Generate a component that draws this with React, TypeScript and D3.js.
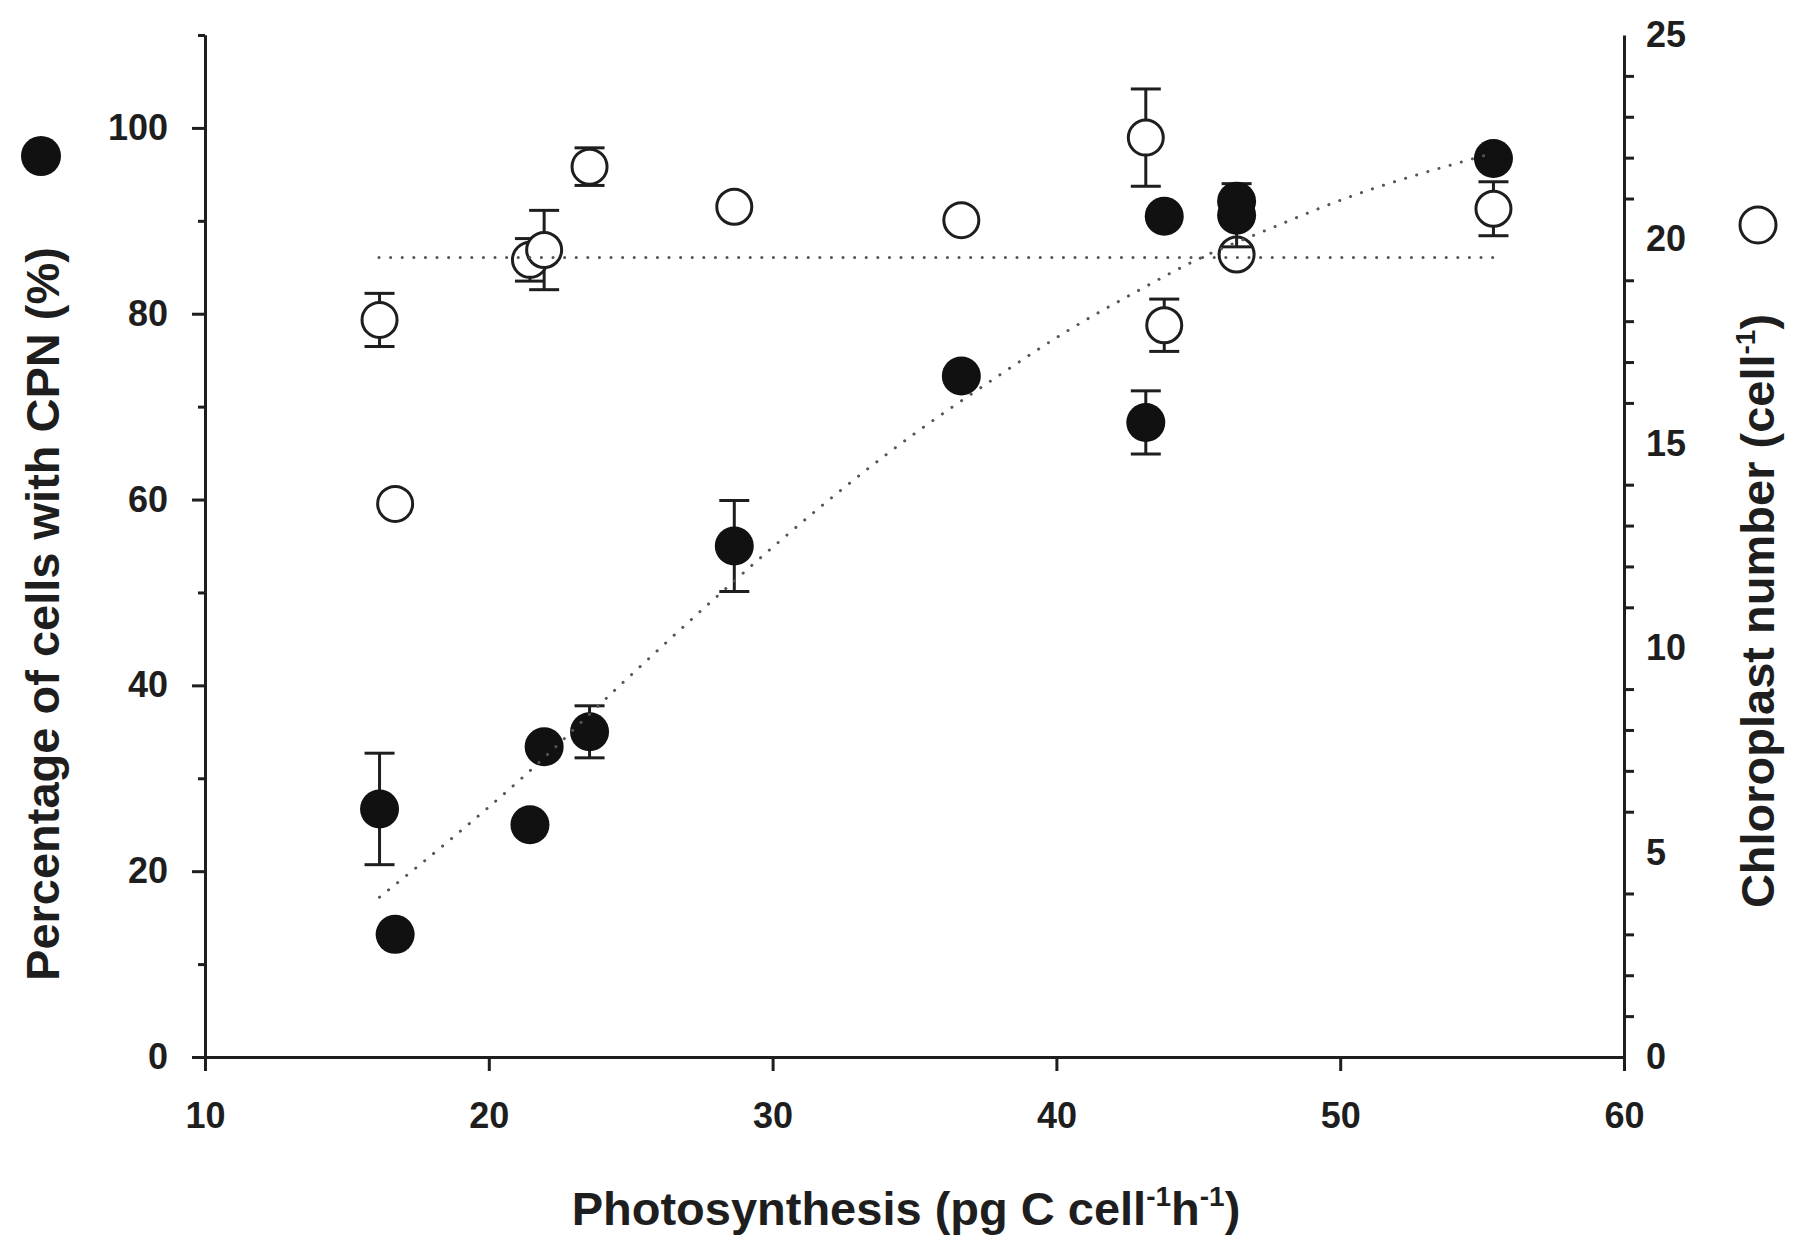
import { useEffect, useRef } from 'react';
import * as d3 from 'd3';

const WIDTH = 1800;
const HEIGHT = 1244;
const PLOT = { left: 205, right: 1624, top: 35, bottom: 1057 };

// filled circles: percentage of cells with CPN (left axis)
const cpnPhoto = [16.15, 16.7, 21.45, 21.95, 23.55, 28.65, 36.65, 43.15, 43.8, 46.35, 46.35, 55.4];
const cpnPct = [26.7, 13.2, 25.0, 33.4, 35.0, 55.0, 73.3, 68.3, 90.5, 92.1, 90.6, 96.7];
const cpnErr = [6.0, 0, 0, 0, 2.8, 4.9, 0, 3.4, 0, 0, 3.4, 0];

// open circles: chloroplast number (right axis)
const chlPhoto = [16.15, 16.7, 21.45, 21.95, 23.55, 28.65, 36.65, 43.15, 43.8, 46.35, 55.4];
const chlNum = [18.03, 13.53, 19.5, 19.74, 21.78, 20.8, 20.47, 22.49, 17.9, 19.63, 20.75];
const chlErr = [0.65, 0, 0.52, 0.97, 0.46, 0, 0, 1.19, 0.64, 0, 0.66];

// dotted fitted curve through the filled circles
const fitPhoto = [16.15, 18.63, 21.22, 24.51, 27.9, 30.37, 34.14, 37.9, 40.36, 42.83, 44.94, 47.4, 50.35, 54.7, 55.4];
const fitPct = [17.2, 23.36, 30.17, 39.68, 49.19, 55.83, 65.15, 73.2, 78.1, 82.4, 85.8, 89.0, 92.6, 96.7, 97.3];

// dotted mean line for chloroplast number
const meanPhoto = [16.13, 55.48];
const meanChl = [19.56, 19.56];

const xTicks = [10, 20, 30, 40, 50, 60];
const yLeftMajor = [0, 20, 40, 60, 80, 100];
const yLeftMinor = [10, 30, 50, 70, 90, 110];
const yRightLabels = [0, 5, 10, 15, 20, 25];

const FONT = '"Liberation Sans", Arial, Helvetica, sans-serif';
const INK = '#1e1e1e';
const R = 19;
const CAP = 15;

type Pt = { x: number; y: number };

const App = () => {
  const axesRef = useRef<SVGGElement>(null);

  const xScale = d3.scaleLinear().domain([10, 60]).range([PLOT.left, PLOT.right]);
  const yLeft = d3.scaleLinear().domain([0, 110]).range([PLOT.bottom, PLOT.top]);
  const yRight = d3.scaleLinear().domain([0, 25]).range([PLOT.bottom, PLOT.top]);

  useEffect(() => {
    const g = d3.select(axesRef.current);
    g.selectAll('*').remove();

    const style = (sel: d3.Selection<SVGGElement, unknown, null, undefined>) => {
      sel.selectAll('path, line').attr('stroke', INK).attr('stroke-width', 3);
      sel
        .selectAll('text')
        .attr('fill', INK)
        .style('font-family', FONT)
        .style('font-weight', 'bold')
        .style('font-size', '36px');
    };

    // X axis
    g.append('g')
      .attr('transform', `translate(0,${PLOT.bottom})`)
      .call(
        d3.axisBottom(xScale).tickValues(xTicks).tickSize(14).tickSizeOuter(0).tickPadding(31).tickFormat(d3.format('d'))
      )
      .call(style);

    // left axis, major + minor ticks
    g.append('g')
      .attr('transform', `translate(${PLOT.left},0)`)
      .call(
        d3.axisLeft(yLeft).tickValues(yLeftMajor).tickSize(13).tickSizeOuter(0).tickPadding(24).tickFormat(d3.format('d'))
      )
      .call(style);
    g.append('g')
      .attr('transform', `translate(${PLOT.left},0)`)
      .call(d3.axisLeft(yLeft).tickValues(yLeftMinor).tickSize(7).tickSizeOuter(0).tickFormat(() => ''))
      .call(style);

    // right axis, ticks every unit except labelled ones
    const rightMinor = d3.range(1, 25).filter((v) => v % 5 !== 0);
    g.append('g')
      .attr('transform', `translate(${PLOT.right},0)`)
      .call(d3.axisRight(yRight).tickValues(rightMinor).tickSize(10).tickSizeOuter(0).tickFormat(() => ''))
      .call(style);
    g.append('g')
      .attr('transform', `translate(${PLOT.right},0)`)
      .call(d3.axisRight(yRight).tickValues(yRightLabels).tickSize(0).tickSizeOuter(0).tickPadding(22).tickFormat(d3.format('d')))
      .call(style)
      .call((s) => s.select('.domain').remove());
  }, []);

  const fitLine = d3
    .line<Pt>()
    .x((d) => xScale(d.x))
    .y((d) => yLeft(d.y))
    .curve(d3.curveMonotoneX);
  const fitPath = fitLine(fitPhoto.map((x, i) => ({ x, y: fitPct[i] })));

  const meanLine = d3
    .line<Pt>()
    .x((d) => xScale(d.x))
    .y((d) => yRight(d.y));
  const meanPath = meanLine(meanPhoto.map((x, i) => ({ x, y: meanChl[i] })));

  const errorBar = (cx: number, lo: number, hi: number, key: string) => (
    <g key={key} stroke={INK} strokeWidth={3}>
      <line x1={cx} x2={cx} y1={lo} y2={hi} />
      <line x1={cx - CAP} x2={cx + CAP} y1={lo} y2={lo} />
      <line x1={cx - CAP} x2={cx + CAP} y1={hi} y2={hi} />
    </g>
  );

  const chlBars = chlPhoto.map((x, i) =>
    chlErr[i] > 0 ? errorBar(xScale(x), yRight(chlNum[i] - chlErr[i]), yRight(chlNum[i] + chlErr[i]), 'ce' + i) : null
  );
  const cpnBars = cpnPhoto.map((x, i) =>
    cpnErr[i] > 0 ? errorBar(xScale(x), yLeft(cpnPct[i] - cpnErr[i]), yLeft(cpnPct[i] + cpnErr[i]), 'pe' + i) : null
  );

  const openCircles = chlPhoto.map((x, i) => (
    <circle key={'o' + i} cx={xScale(x)} cy={yRight(chlNum[i])} r={R - 1.5} fill="#fff" stroke={INK} strokeWidth={3} />
  ));
  const filledCircles = cpnPhoto.map((x, i) => (
    <circle key={'f' + i} cx={xScale(x)} cy={yLeft(cpnPct[i])} r={R + 0.5} fill="#111" />
  ));

  const dotted = {
    fill: 'none',
    stroke: '#555',
    strokeWidth: 3,
    strokeLinecap: 'round' as const,
    strokeDasharray: '0.1 11.5',
  };

  const titleStyle = {
    fontFamily: FONT,
    fontWeight: 'bold' as const,
    fontSize: 47,
    fill: INK,
  };

  return (
    <div>
      <svg width={WIDTH} height={HEIGHT} style={{ position: 'absolute', left: 0, top: 0, background: '#fff' }}>
        {chlBars}
        {openCircles}
        {cpnBars}
        {filledCircles}
        {fitPath && <path d={fitPath} {...dotted} />}
        {meanPath && <path d={meanPath} {...dotted} />}
        <g ref={axesRef} />

        {/* axis titles */}
        <text x={906} y={1225} textAnchor="middle" {...titleStyle}>
          Photosynthesis (pg C cell
          <tspan fontSize={28} dy={-19}>-1</tspan>
          <tspan dy={19}>h</tspan>
          <tspan fontSize={28} dy={-19}>-1</tspan>
          <tspan dy={19}>)</tspan>
        </text>
        <text transform="translate(59,614) rotate(-90)" textAnchor="middle" {...titleStyle}>
          Percentage of cells with CPN (%)
        </text>
        <text transform="translate(1774,611) rotate(-90)" textAnchor="middle" {...titleStyle}>
          Chloroplast number (cell
          <tspan fontSize={28} dy={-19}>-1</tspan>
          <tspan dy={19}>)</tspan>
        </text>

        {/* series symbols next to the titles */}
        <circle cx={41} cy={156} r={20} fill="#111" />
        <circle cx={1758} cy={225} r={18} fill="#fff" stroke={INK} strokeWidth={3} />
      </svg>
    </div>
  );
};

export default App;
